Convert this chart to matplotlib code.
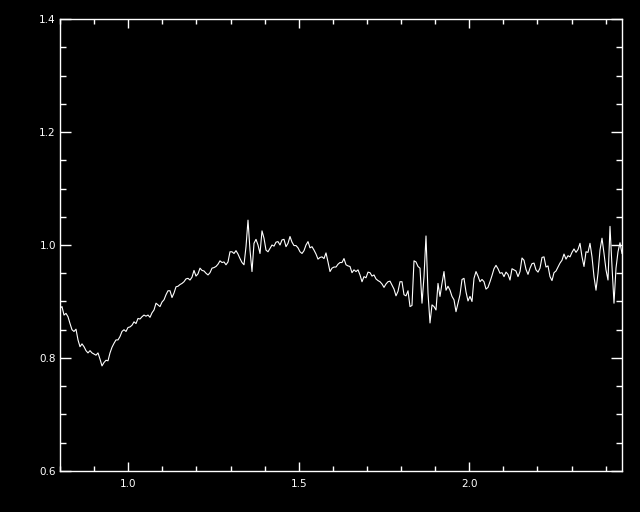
import numpy as np
import matplotlib
matplotlib.use("Agg")
import matplotlib.pyplot as plt
from matplotlib.ticker import MultipleLocator, FixedLocator

# Spectrum sampled on a uniform wavelength grid (microns)
wave_start = 0.80
wave_end = 2.448
flux = [
    0.888, 0.891, 0.876, 0.879, 0.873, 0.861, 0.850, 0.847, 0.851, 0.832,
    0.820, 0.825, 0.820, 0.813, 0.809, 0.813, 0.809, 0.807, 0.805, 0.809,
    0.798, 0.786, 0.792, 0.796, 0.795, 0.809, 0.819, 0.826, 0.832, 0.832,
    0.838, 0.847, 0.850, 0.847, 0.854, 0.855, 0.858, 0.864, 0.861, 0.870,
    0.869, 0.873, 0.876, 0.874, 0.876, 0.872, 0.880, 0.885, 0.897, 0.894,
    0.891, 0.899, 0.903, 0.912, 0.919, 0.919, 0.907, 0.915, 0.926, 0.927,
    0.930, 0.932, 0.935, 0.940, 0.941, 0.938, 0.943, 0.955, 0.945, 0.949,
    0.959, 0.955, 0.954, 0.950, 0.947, 0.951, 0.959, 0.960, 0.962, 0.966,
    0.972, 0.969, 0.970, 0.965, 0.970, 0.988, 0.988, 0.985, 0.990, 0.984,
    0.976, 0.969, 0.965, 0.997, 1.044, 0.991, 0.953, 1.003, 1.010, 1.000,
    0.985, 1.025, 1.012, 0.991, 0.988, 0.994, 1.000, 0.998, 1.005, 1.006,
    1.000, 1.009, 1.010, 0.997, 1.003, 1.015, 1.005, 0.999, 0.999, 0.995,
    0.988, 0.985, 0.990, 1.000, 1.006, 0.995, 0.997, 0.991, 0.984, 0.975,
    0.978, 0.979, 0.976, 0.986, 0.970, 0.953, 0.959, 0.961, 0.961, 0.966,
    0.969, 0.969, 0.976, 0.965, 0.963, 0.962, 0.951, 0.956, 0.953, 0.956,
    0.947, 0.935, 0.944, 0.942, 0.952, 0.951, 0.945, 0.947, 0.940, 0.937,
    0.935, 0.931, 0.925, 0.931, 0.935, 0.936, 0.929, 0.922, 0.910, 0.918,
    0.935, 0.935, 0.912, 0.910, 0.919, 0.891, 0.893, 0.972, 0.970, 0.962,
    0.959, 0.897, 0.944, 1.016, 0.915, 0.862, 0.894, 0.891, 0.885, 0.932,
    0.909, 0.932, 0.953, 0.920, 0.927, 0.920, 0.909, 0.903, 0.882, 0.897,
    0.912, 0.939, 0.941, 0.917, 0.901, 0.909, 0.900, 0.941, 0.953, 0.945,
    0.935, 0.939, 0.935, 0.922, 0.925, 0.935, 0.946, 0.958, 0.964, 0.958,
    0.950, 0.951, 0.944, 0.952, 0.948, 0.938, 0.958, 0.956, 0.954, 0.944,
    0.953, 0.977, 0.973, 0.957, 0.948, 0.959, 0.967, 0.968, 0.956, 0.952,
    0.959, 0.978, 0.979, 0.961, 0.963, 0.944, 0.937, 0.951, 0.954, 0.961,
    0.968, 0.973, 0.984, 0.975, 0.981, 0.979, 0.987, 0.993, 0.987, 0.992,
    1.003, 0.979, 0.962, 0.988, 0.987, 1.003, 0.979, 0.944, 0.920, 0.950,
    0.991, 1.012, 0.985, 0.956, 0.938, 1.033, 0.962, 0.897, 0.959, 0.988,
    1.004, 0.985,
]
x_major = [1.0, 1.5, 2.0]
x_labels = ["1.0", "1.5", "2.0"]
y_major = [0.6, 0.8, 1.0, 1.2, 1.4]
y_labels = ["0.6", "0.8", "1.0", "1.2", "1.4"]

wave = np.linspace(wave_start, wave_end, len(flux))

fig = plt.figure(figsize=(6.4, 5.12), dpi=100, facecolor="black")
ax = fig.add_axes([60 / 640, 41 / 512, 562 / 640, 452 / 512], facecolor="black")

ax.plot(wave, flux, color="white", linewidth=0.8)

ax.set_xlim(wave_start, wave_end)
ax.set_ylim(0.6, 1.4)

ax.xaxis.set_major_locator(FixedLocator(x_major))
ax.set_xticklabels(x_labels)
ax.xaxis.set_minor_locator(MultipleLocator(0.1))
ax.yaxis.set_major_locator(FixedLocator(y_major))
ax.set_yticklabels(y_labels)
ax.yaxis.set_minor_locator(MultipleLocator(0.05))

for s in ax.spines.values():
    s.set_color("white")
    s.set_linewidth(1.0)

ax.tick_params(axis="both", which="both", direction="in", colors="white",
               top=True, right=True, width=1.0, labelsize=7.5)
ax.tick_params(axis="x", which="major", length=6.5, pad=6)
ax.tick_params(axis="x", which="minor", length=3.6)
ax.tick_params(axis="y", which="major", length=8, pad=3)
ax.tick_params(axis="y", which="minor", length=4.3)

fig.savefig("out.png", dpi=100, facecolor="black")
